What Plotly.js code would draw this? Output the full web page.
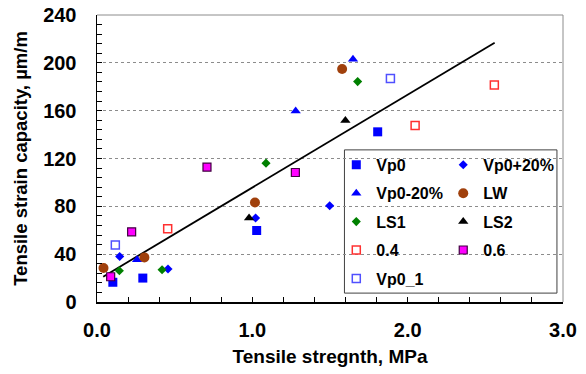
<!DOCTYPE html>
<html>
<head>
<meta charset="utf-8">
<script src="https://cdn.plot.ly/plotly-3.0.1.min.js"></script>
<style>html,body{margin:0;padding:0;background:#fff;}#chart{width:586px;height:374px;}</style>
</head>
<body>
<div id="chart"></div>
<script>
// Data (x: tensile strength, MPa; y: strain capacity, µm/m)
const vp0X = [0.102, 0.295, 1.028, 1.807];
const vp0Y = [16.5, 20.0, 59.8, 142.3];
const vp0p20X = [0.146, 0.457, 1.021, 1.498];
const vp0p20Y = [38.1, 27.6, 70.2, 80.5];
const vp0m20X = [0.258, 1.279, 1.648];
const vp0m20Y = [35.3, 159.8, 203.0];
const lwX = [0.042, 0.305, 1.017, 1.578];
const lwY = [28.4, 37.3, 83.2, 194.9];
const ls1X = [0.144, 0.419, 1.088, 1.678];
const ls1Y = [26.1, 27.0, 116.1, 184.3];
const ls2X = [0.979, 1.599];
const ls2Y = [70.2, 151.7];
const w04X = [0.455, 2.048, 2.558];
const w04Y = [61.2, 147.5, 181.5];
const w06X = [0.088, 0.223, 0.708, 1.277];
const w06Y = [21.1, 58.7, 112.8, 108.3];
const vp01X = [0.118, 1.889];
const vp01Y = [47.6, 186.8];
const trendX = [0.04, 2.56];
const trendY = [21.2, 216.8];

const xTickVals = [0, 1, 2, 3];
const xTickText = ['0.0', '1.0', '2.0', '3.0'];
const yTickVals = [0, 40, 80, 120, 160, 200, 240];

function pts(name, x, y, symbol, size, color, lineColor, lineWidth, legend) {
  return {
    type: 'scatter', mode: 'markers', name: name, x: x, y: y,
    legend: legend, legendgroup: name,
    marker: {symbol: symbol, size: size, color: color,
             line: {color: lineColor, width: lineWidth}}
  };
}

const traces = [
  {type: 'scatter', mode: 'lines', x: trendX, y: trendY, showlegend: false,
   line: {color: '#000000', width: 1.8}},
  pts('Vp0', vp0X, vp0Y, 'square', 9, '#0000FF', '#0000FF', 0, 'legend'),
  pts('Vp0+20%', vp0p20X, vp0p20Y, 'diamond', 7, '#0000FF', '#0000FF', 0, 'legend2'),
  pts('Vp0-20%', vp0m20X, vp0m20Y, 'triangle-up', 9, '#0000FF', '#0000FF', 0, 'legend'),
  pts('LW', lwX, lwY, 'circle', 10, '#A0400C', '#A0400C', 0, 'legend2'),
  pts('LS1', ls1X, ls1Y, 'diamond', 7, '#008000', '#008000', 0, 'legend'),
  pts('LS2', ls2X, ls2Y, 'triangle-up', 9, '#000000', '#000000', 0, 'legend2'),
  pts('0.4', w04X, w04Y, 'square-open', 8, '#FF3030', '#FF3030', 1.5, 'legend'),
  pts('0.6', w06X, w06Y, 'square', 8, '#FF00FF', '#400040', 1.2, 'legend2'),
  pts('Vp0_1', vp01X, vp01Y, 'square-open', 8, '#5050FF', '#5050FF', 1.5, 'legend')
];

const baseFont = {family: '"Liberation Sans", Arial, sans-serif', color: '#000000'};
const legFont = Object.assign({}, baseFont, {size: 16, weight: 'bold'});

const layout = {
  width: 586, height: 374,
  margin: {l: 97, r: 23, t: 15, b: 72},
  paper_bgcolor: '#ffffff', plot_bgcolor: '#ffffff',
  font: baseFont,
  showlegend: true,
  xaxis: {
    range: [0, 3], tickvals: xTickVals, ticktext: xTickText,
    ticks: 'inside', ticklen: 5, tickcolor: '#000', tickwidth: 1,
    minor: {dtick: 0.2, ticks: 'inside', ticklen: 5, tickcolor: '#000', showgrid: false},
    showline: true, linecolor: '#000', linewidth: 1.5, showgrid: false, zeroline: false,
    tickfont: Object.assign({}, baseFont, {size: 20, weight: 'bold'}),
    ticklabelstandoff: 9,
    title: {text: 'Tensile stregnth, MPa', font: Object.assign({}, baseFont, {size: 19, weight: 'bold'}), standoff: 10}
  },
  yaxis: {
    range: [0, 240], tickvals: yTickVals,
    ticks: 'inside', ticklen: 5, tickcolor: '#000', tickwidth: 1,
    minor: {dtick: 8, ticks: 'inside', ticklen: 5, tickcolor: '#000', showgrid: false},
    showline: true, linecolor: '#000', linewidth: 1.5,
    showgrid: true, gridcolor: '#8c8c8c', griddash: 'dot', gridwidth: 1, zeroline: false,
    tickfont: Object.assign({}, baseFont, {size: 20, weight: 'bold'}),
    ticklabelstandoff: 15,
    title: {text: 'Tensile strain capacity, µm/m', font: Object.assign({}, baseFont, {size: 18.5, weight: 'bold'}), standoff: 10}
  },
  legend: {
    x: 0.5135, y: 0.537, xanchor: 'left', yanchor: 'top',
    bgcolor: 'rgba(0,0,0,0)', borderwidth: 0, font: legFont,
    tracegroupgap: 4.6, itemclick: false, itemdoubleclick: false
  },
  legend2: {
    x: 0.743, y: 0.537, xanchor: 'left', yanchor: 'top',
    bgcolor: 'rgba(0,0,0,0)', borderwidth: 0, font: legFont,
    tracegroupgap: 4.6, itemclick: false, itemdoubleclick: false
  },
  shapes: [
    {type: 'line', xref: 'paper', yref: 'paper', x0: 0, x1: 1, y0: 1, y1: 1,
     line: {color: '#8c8c8c', width: 1}},
    {type: 'line', xref: 'paper', yref: 'paper', x0: 1, x1: 1, y0: 0, y1: 1,
     line: {color: '#8c8c8c', width: 1}},
    {type: 'rect', xref: 'paper', yref: 'paper', x0: 0.531, x1: 0.987, y0: 0.031, y1: 0.530,
     fillcolor: '#ffffff', line: {color: '#404040', width: 1}, layer: 'between'}
  ]
};

Plotly.newPlot('chart', traces, layout, {staticPlot: true, displayModeBar: false});
</script>
</body>
</html>
